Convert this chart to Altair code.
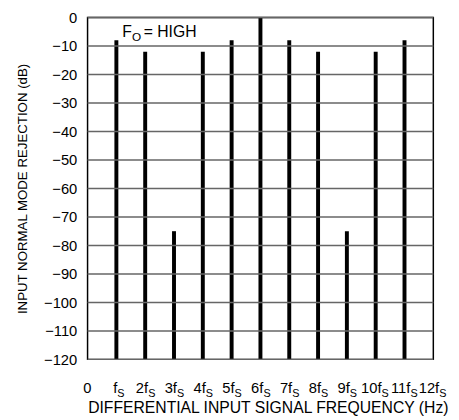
import altair as alt
import pandas as pd

# Data
harmonics = [1, 2, 3, 4, 5, 6, 7, 8, 9, 10, 11]
rejection_db = [-8, -12, -75, -12, -8, 0, -8, -12, -75, -12, -8]

tick_pos = list(range(0, 13))
tick_main = ["0", "f", "2f", "3f", "4f", "5f", "6f", "7f", "8f", "9f", "10f", "11f", "12f"]
tick_sub = ["", "S", "S", "S", "S", "S", "S", "S", "S", "S", "S", "S", "S"]
tick_group = ["zero", "one", "d1", "d1", "d1", "d1", "d1", "d1", "d1", "d1", "d2", "d2", "d2"]

y_ticks = list(range(-120, 1, 10))

anno_x = [1.2]
anno_y = [-5]
anno_main = ["F"]
anno_sub = ["O"]
anno_rest = ["= HIGH"]

FONT = "Liberation Sans"
W, H = 352, 348
YTITLE = "INPUT NORMAL MODE REJECTION (dB)"

bars_df = pd.DataFrame({"freq": harmonics, "rej": rejection_db})
ticks_df = pd.DataFrame({"pos": tick_pos, "main": tick_main, "sub": tick_sub, "grp": tick_group})
anno_df = pd.DataFrame({"x": anno_x, "y": anno_y, "main": anno_main, "sub": anno_sub, "rest": anno_rest})
grid_df = pd.DataFrame({"level": [float(v) for v in y_ticks]})

xscale = alt.Scale(domain=[0, 12], nice=False, zero=False)
yscale = alt.Scale(domain=[-120, 0], nice=False)

yaxis = alt.Axis(
    values=y_ticks,
    title=YTITLE,
    titleFont=FONT, titleFontSize=13.5, titleFontWeight="normal", titleColor="black",
    titleAngle=-90, titleX=-66, titleY=H / 2, titleAlign="center", titleBaseline="middle",
    labelFont=FONT, labelFontSize=15, labelColor="black", labelPadding=11,
    labelOverlap=False, labelBound=False, labelFlush=False,
    ticks=False, domain=False, grid=False,
)

grid = alt.Chart(grid_df).mark_rule(color="#666666", strokeWidth=1.5).encode(
    x=alt.value(0),
    x2=alt.value(W),
    y=alt.Y("level:Q", scale=yscale, axis=yaxis, title=YTITLE),
)

bars = alt.Chart(bars_df).mark_rule(color="black", strokeWidth=4).encode(
    x=alt.X("freq:Q", scale=xscale, axis=None),
    y=alt.Y("rej:Q", scale=yscale, axis=yaxis, title=YTITLE),
    y2=alt.datum(-120),
)

label_layers = []
offsets = {"zero": 4, "one": 1, "d1": 3, "d2": 6}
for grp, dx in offsets.items():
    base = alt.Chart(ticks_df).transform_filter(alt.datum.grp == grp)
    main = base.mark_text(font=FONT, fontSize=15, align="right", baseline="alphabetic", dx=dx, color="black").encode(
        x=alt.X("pos:Q", scale=xscale, axis=None), y=alt.value(H + 34), text="main:N")
    sub = base.mark_text(font=FONT, fontSize=11, align="left", baseline="alphabetic", dx=dx, color="black").encode(
        x=alt.X("pos:Q", scale=xscale, axis=None), y=alt.value(H + 38), text="sub:N")
    label_layers += [main, sub]

xtitle = alt.Chart(anno_df).mark_text(
    font=FONT, fontSize=16, align="center", baseline="alphabetic", color="black",
    text="DIFFERENTIAL INPUT SIGNAL FREQUENCY (Hz)",
).encode(x=alt.value(W / 2 + 8), y=alt.value(H + 55))

def anno(field, size, dx, dy):
    return alt.Chart(anno_df).mark_text(
        font=FONT, fontSize=size, align="left", baseline="middle", dx=dx, dy=dy, color="black"
    ).encode(
        x=alt.X("x:Q", scale=xscale, axis=None),
        y=alt.Y("y:Q", scale=yscale, axis=yaxis, title=YTITLE),
        text=f"{field}:N",
    )

a_main = anno("main", 16, 0, 0)
a_sub = anno("sub", 12, 10, 5)
a_rest = anno("rest", 16, 22, 0)

chart = alt.layer(
    bars, *label_layers, xtitle, a_main, a_sub, a_rest, grid
).properties(
    width=W, height=H,
    autosize=alt.AutoSizeParams(type="none"),
    padding={"left": 81, "top": 6, "right": 18, "bottom": 58},
).configure_view(stroke="black", strokeWidth=1.5)

chart.save("out.html", embed_options={"renderer": "svg", "actions": False})
